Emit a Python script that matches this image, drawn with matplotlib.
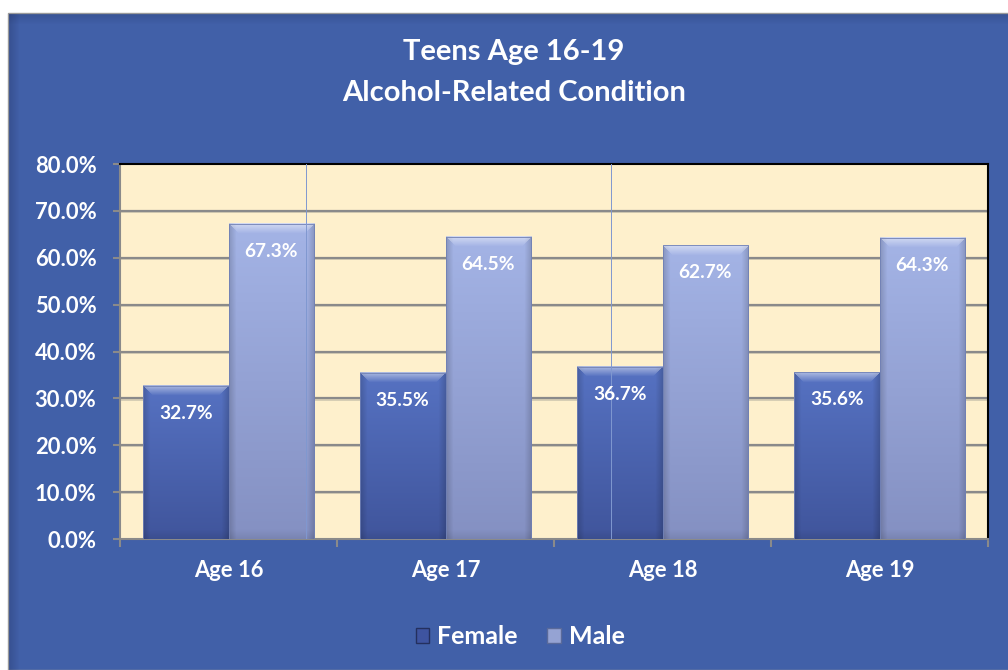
import numpy as np
import matplotlib
matplotlib.use("Agg")
import matplotlib.pyplot as plt
from matplotlib.patches import Rectangle, Patch

# data
categories = ["Age 16", "Age 17", "Age 18", "Age 19"]
female = [32.7, 35.5, 36.7, 35.6]
male = [67.3, 64.5, 62.7, 64.3]
series_names = ["Female", "Male"]
yticks = [0, 10, 20, 30, 40, 50, 60, 70, 80]

plt.rcParams['font.family'] = ['Lato', 'DejaVu Sans']
plt.rcParams['font.weight'] = 'bold'

BG = "#4160a8"
CREAM = "#fef0cc"
FEM_TOP, FEM_BOT = np.array([0x56, 0x72, 0xc2]) / 255, np.array([0x40, 0x55, 0x9c]) / 255
MAL_TOP, MAL_BOT = np.array([0xa4, 0xb4, 0xe6]) / 255, np.array([0x84, 0x90, 0xc2]) / 255

fig = plt.figure(figsize=(10.08, 6.7), dpi=100, facecolor="white")

# blue chart background with a soft shadow on the left / top
fig.patches.append(Rectangle((8 / 1008, 0), 1, 657 / 670, transform=fig.transFigure,
                             facecolor=BG, edgecolor="#9a9a9a", lw=1, zorder=-3))
for i in range(10):
    a = 0.25 * (1 - i / 10)
    fig.patches.append(Rectangle(((9 + i) / 1008, 0), 1 / 1008, 656 / 670,
                                 transform=fig.transFigure, facecolor="#1a2550",
                                 alpha=a, lw=0, zorder=-2))
    fig.patches.append(Rectangle((9 / 1008, (655 - i) / 670), 1, 1 / 670,
                                 transform=fig.transFigure, facecolor="#1a2550",
                                 alpha=a * 0.8, lw=0, zorder=-2))

ax = fig.add_axes([120 / 1008, 131 / 670, 868 / 1008, 375 / 670])
ax.set_facecolor(CREAM)
ax.set_xlim(-0.5, len(categories) - 0.5)
ax.set_ylim(0, 80)

# gridlines with a small shadow
for y in yticks[1:-1]:
    ax.axhline(y - 0.25, color="#d0c8b0", lw=1.2, zorder=1)
    ax.axhline(y, color="#8a8a8a", lw=1.6, zorder=1.1)

# faint vertical lines seen in the plot area
for xv in [0.357, 1.763]:
    ax.axvline(xv, color="#8098d0", lw=0.7, zorder=4)

w = 0.395
x = np.arange(len(categories))
PX_Y = 375 / 80      # pixels per percent
PX_X = 868 / 4       # pixels per category


def bevel_bar(xc, h, top, bot):
    x0, x1 = xc - w / 2, xc + w / 2
    hpx = h * PX_Y
    wpx = w * PX_X
    ny, nx = int(hpx), int(wpx)
    t = np.linspace(1, 0, ny)[:, None]
    img = np.zeros((ny, nx, 4))
    for c in range(3):
        img[:, :, c] = bot[c] + (top[c] - bot[c]) * t
    img[:, :, 3] = 1
    yy = np.arange(ny)[:, None].astype(float)
    xx = np.arange(nx)[None, :].astype(float)
    dside = np.minimum(xx, nx - 1 - xx)
    # darker side edges
    side = np.clip(1 - dside / 7, 0, 1) * 0.16
    img[:, :, :3] *= (1 - side)[:, :, None]
    # lighter top bevel (trapezoid)
    topb = np.clip(1 - yy / 10, 0, 1) * (dside >= yy) * 0.5
    topb = np.broadcast_to(topb, (ny, nx))
    img[:, :, :3] = img[:, :, :3] * (1 - topb[:, :, None]) + topb[:, :, None]
    # slightly darker bottom bevel
    yb = ny - 1 - yy
    botb = np.clip(1 - yb / 9, 0, 1) * 0.08
    img[:, :, :3] *= (1 - np.broadcast_to(botb, (ny, nx)))[:, :, None]
    ax.imshow(img, extent=(x0, x1, 0, h), aspect="auto", zorder=3, interpolation="bilinear")
    ax.add_patch(Rectangle((x0, 0), w, h, fill=False, edgecolor="#7080b4", lw=0.6, zorder=3.5))


for i in range(len(categories)):
    bevel_bar(x[i] - w / 2, female[i], FEM_TOP, FEM_BOT)
    bevel_bar(x[i] + w / 2, male[i], MAL_TOP, MAL_BOT)
    for xc, v in [(x[i] - w / 2, female[i]), (x[i] + w / 2, male[i])]:
        ax.annotate(f"{v:.1f}%", (xc, v), xytext=(0, -20), textcoords="offset points",
                    ha="center", va="center", color="white", fontsize=13.8,
                    fontweight="bold", zorder=5)

ax.set_xlim(-0.5, len(categories) - 0.5)
ax.set_ylim(0, 80)

ax.set_yticks(yticks)
ax.set_yticklabels([f"{v:.1f}%" for v in yticks], color="white", fontsize=15.8, fontweight="bold")
ax.set_xticks(np.arange(len(categories) + 1) - 0.5, minor=False)
ax.set_xticklabels([])
ax.set_xticks(x, minor=True)
ax.set_xticklabels(categories, minor=True, color="white", fontsize=15.8, fontweight="bold")
ax.tick_params(axis="x", which="major", length=6, color="#8a8a8a", width=1.5)
ax.tick_params(axis="x", which="minor", length=0, pad=15)
ax.tick_params(axis="y", length=5, color="#8a8a8a", width=1.5, pad=12)

for s in ["top", "right"]:
    ax.spines[s].set_color("black")
    ax.spines[s].set_linewidth(1.5)
for s in ["bottom", "left"]:
    ax.spines[s].set_color("#8a8a8a")
    ax.spines[s].set_linewidth(1.5)

fig.text(514 / 1008, 1 - 52 / 670, "Teens Age 16-19", ha="center", va="center",
         color="white", fontsize=21, fontweight="bold")
fig.text(514 / 1008, 1 - 93 / 670, "Alcohol-Related Condition", ha="center", va="center",
         color="white", fontsize=21, fontweight="bold")

handles = [Patch(facecolor="#3e54a0", edgecolor="#24305e", lw=1),
           Patch(facecolor="#95a3d3", edgecolor="#5a6a9a", lw=1)]
leg = fig.legend(handles, series_names, loc="center", bbox_to_anchor=(520 / 1008, 1 - 637 / 670),
                 ncol=2, frameon=False, handlelength=0.55, handleheight=0.55, handletextpad=0.3,
                 columnspacing=1.2, prop={"size": 18, "weight": "bold"})
for t in leg.get_texts():
    t.set_color("white")

fig.savefig("out.png", dpi=100, facecolor="white")
